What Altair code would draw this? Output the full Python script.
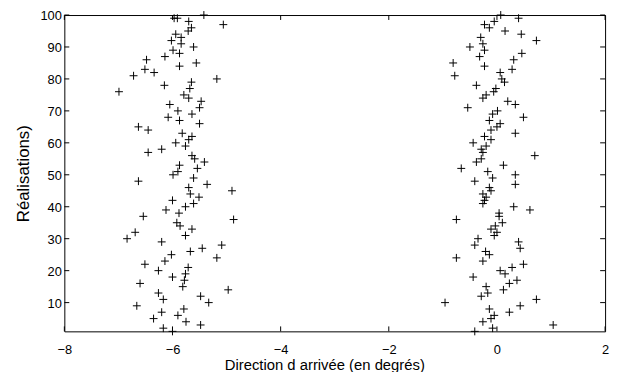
import altair as alt
import pandas as pd

# Left cluster (around -6 degrees): realisation index and direction
left_r = [100, 99, 99, 98, 97, 96, 95, 94, 93, 92, 91, 90, 89, 88, 87, 86, 85, 84, 83, 82,
          81, 80, 79, 78, 77, 76, 75, 74, 73, 72, 71, 70, 69, 68, 67, 66, 65, 64, 63, 62,
          61, 60, 59, 58, 57, 56, 55, 54, 53, 52, 51, 50, 49, 48, 47, 46, 45, 44, 43, 42,
          41, 40, 39, 38, 37, 36, 35, 34, 33, 32, 31, 30, 29, 28, 27, 26, 25, 24, 23, 22,
          21, 20, 19, 18, 17, 16, 15, 14, 13, 12, 11, 10, 9, 8, 7, 6, 5, 4, 3, 2, 1]
left_v = [-5.42, -5.97, -5.91, -5.70, -5.06, -5.65, -5.71, -5.94, -5.84, -6.02, -5.84, -5.61,
          -5.99, -5.87, -6.14, -6.48, -5.56, -5.87, -6.51, -6.34, -6.72, -5.18, -5.65, -6.15,
          -5.68, -6.99, -5.79, -5.70, -5.47, -6.05, -5.50, -5.90, -5.64, -6.08, -5.87, -5.50,
          -6.63, -6.45, -5.82, -5.64, -5.70, -5.94, -5.76, -6.20, -6.45, -5.64, -5.59, -5.41,
          -5.87, -5.54, -5.90, -5.99, -5.61, -6.63, -5.36, -5.70, -4.90, -5.67, -5.51, -6.00,
          -5.61, -5.76, -6.12, -5.88, -6.54, -4.87, -5.92, -5.86, -5.64, -6.69, -5.76, -6.84,
          -6.20, -5.09, -5.45, -5.67, -6.02, -5.18, -6.14, -6.51, -5.71, -6.26, -5.76, -6.00,
          -5.78, -6.60, -5.81, -4.97, -6.26, -5.48, -6.17, -5.33, -6.66, -5.79, -6.20, -5.90,
          -6.35, -5.75, -5.48, -6.17, -6.00]

# Right cluster (around 0 degrees)
right_r = list(range(100, 0, -1))
right_v = [0.07, 0.40, -0.05, -0.23, -0.14, 0.15, 0.45, -0.30, 0.73, -0.26, -0.50, -0.23,
           0.46, -0.32, 0.31, -0.81, -0.23, 0.28, 0.06, -0.78, 0.09, 0.14, -0.38, -0.02,
           -0.06, -0.20, -0.26, 0.20, 0.34, -0.54, 0.01, -0.08, 0.49, -0.14, 0.06, 0.00,
           -0.11, 0.34, -0.23, -0.11, -0.44, -0.20, -0.29, -0.26, 0.70, -0.29, -0.38, 0.12,
           -0.66, -0.17, 0.34, -0.08, -0.41, 0.34, -0.14, -0.11, -0.26, -0.20, -0.23, -0.26,
           0.31, 0.61, 0.04, 0.04, -0.75, 0.10, -0.03, -0.11, 0.00, -0.05, -0.35, 0.40,
           -0.41, 0.43, -0.21, -0.14, -0.75, -0.26, 0.49, 0.28, 0.06, 0.15, -0.44, 0.37,
           0.23, -0.20, 0.12, -0.17, -0.29, 0.73, -0.96, 0.43, -0.14, 0.23, -0.05, -0.11,
           -0.26, 1.04, -0.08, -0.41]

x_ticks = [-8, -6, -4, -2, 0, 2]
y_ticks = [10, 20, 30, 40, 50, 60, 70, 80, 90, 100]

W, H = 547, 320
FONT = "Liberation Sans"

pts = pd.DataFrame({"v": left_v + right_v, "r": left_r + right_r})
xt = pd.DataFrame({"v": x_ticks})
yt = pd.DataFrame({"r": y_ticks})

xscale = alt.Scale(domain=[-8, 2], nice=False, zero=False)
yscale = alt.Scale(domain=[1, 100], nice=False, zero=False)

xaxis = alt.Axis(
    values=x_ticks, title="Direction d arrivée (en degrés)", ticks=False, domain=False,
    grid=False, labelPadding=12, titlePadding=2, labelOverlap=False, labelFlush=False,
    labelFontSize=13, titleFontSize=15, titleX=263)
yaxis = alt.Axis(
    values=y_ticks, title="Réalisations)", ticks=False, domain=False, grid=False,
    labelPadding=3, titlePadding=8, labelOverlap=False, labelFlush=False, labelOffset=1,
    labelFontSize=13, titleFontSize=17)

X = alt.X("v:Q", scale=xscale, axis=xaxis)
Y = alt.Y("r:Q", scale=yscale, axis=yaxis)

points = alt.Chart(pts).mark_point(
    shape="M-1,0L1,0M0,-1L0,1", size=64, filled=False, color="black", strokeWidth=1, opacity=1
).encode(x=X, y=Y)

tick_style = dict(color="black", strokeWidth=1)
xb = alt.Chart(xt).mark_rule(**tick_style).encode(x=X, y=alt.value(H), y2=alt.value(H - 5))
xtp = alt.Chart(xt).mark_rule(**tick_style).encode(x=X, y=alt.value(0), y2=alt.value(5))
yl = alt.Chart(yt).mark_rule(**tick_style).encode(y=Y, x=alt.value(0), x2=alt.value(5))
yr = alt.Chart(yt).mark_rule(**tick_style).encode(y=Y, x=alt.value(W), x2=alt.value(W - 5))

chart = alt.layer(points, xb, xtp, yl, yr).properties(
    width=W, height=H,
    autosize=alt.AutoSizeParams(type="none"),
    padding={"left": 57, "top": 5, "right": 8, "bottom": 39},
).configure_view(
    stroke="black", strokeWidth=1
).configure_axis(
    labelFont=FONT, titleFont=FONT,
    labelColor="black", titleColor="black", titleFontWeight="normal"
)

chart.save("out.html", embed_options={"renderer": "svg", "actions": False})
